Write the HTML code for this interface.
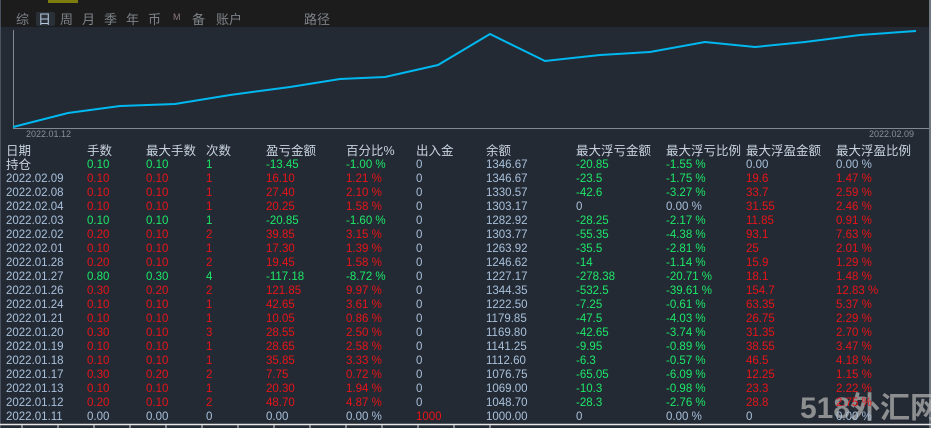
<!DOCTYPE html>
<html><head><meta charset="utf-8"><style>
body{margin:0;width:931px;height:428px;overflow:hidden;background:#232a33;font-family:"Liberation Sans","Noto Sans CJK SC",sans-serif;position:relative}
.top{position:absolute;left:0;top:0;width:931px;height:27px;background:#1c1c1c}
.tabs{position:absolute;top:9px;font-size:13px;color:#7d8288}
.t{position:absolute;top:0;white-space:nowrap}
.row{position:absolute;left:0;height:14px;font-size:11.5px;line-height:14px;white-space:nowrap}
.row span{position:absolute;top:0}
.w{color:#c8d3e0}.d{color:#a9c0dc}.r{color:#e8141a}.g{color:#1ee86a}
.h{font-size:12.5px;color:#c8d3e0}
</style></head><body>
<div class="top"></div>
<div style="position:absolute;left:48px;top:0;width:30px;height:3px;background:#dddd00;opacity:.5"></div>
<div style="position:absolute;left:36px;top:12px;width:19px;height:14px;background:#2a3038;border-radius:2px"></div>
<div class="tabs">
<span class="t" style="left:16px">综</span><span class="t" style="left:38px;color:#b7c9e0">日</span><span class="t" style="left:60px">周</span><span class="t" style="left:82px">月</span><span class="t" style="left:104px">季</span><span class="t" style="left:126px">年</span><span class="t" style="left:148px">币</span><span class="t" style="left:173px;font-size:9px;top:3px;color:#8a7a7a">M</span><span class="t" style="left:192px">备</span><span class="t" style="left:216px">账户</span><span class="t" style="left:304px">路径</span>
</div>
<div style="position:absolute;left:929px;top:0;width:2px;height:428px;background:#6e7680"></div>
<div style="position:absolute;left:0;top:0;width:1px;height:428px;background:#4a5260"></div>
<svg style="position:absolute;left:0;top:0" width="931" height="428">
<line x1="13.5" y1="30" x2="13.5" y2="128" stroke="#808890" stroke-width="1"/>
<line x1="13" y1="128.5" x2="929" y2="128.5" stroke="#808890" stroke-width="1"/>
<polyline fill="none" stroke="#00b8f0" stroke-width="2" points="13,127 68,113 120,106 175,104 230,95 290,87 340,79 385,77 438,65 490,34 545,61 600,55 650,52 705,42 755,47 805,42 860,35 916,31"/>
<text x="26" y="137" font-size="9" fill="#8a9099" font-family="Liberation Sans">2022.01.12</text>
<text x="869" y="137" font-size="9" fill="#8a9099" font-family="Liberation Sans">2022.02.09</text>
<line x1="0" y1="424.5" x2="931" y2="424.5" stroke="#e8e8e8" stroke-width="1.5"/>
<g stroke="#e8e8e8"><line x1="22" y1="424" x2="22" y2="428"/><line x1="58" y1="424" x2="58" y2="428"/><line x1="94" y1="424" x2="94" y2="428"/><line x1="130" y1="424" x2="130" y2="428"/><line x1="166" y1="424" x2="166" y2="428"/><line x1="202" y1="424" x2="202" y2="428"/><line x1="238" y1="424" x2="238" y2="428"/><line x1="274" y1="424" x2="274" y2="428"/><line x1="310" y1="424" x2="310" y2="428"/><line x1="346" y1="424" x2="346" y2="428"/><line x1="382" y1="424" x2="382" y2="428"/><line x1="418" y1="424" x2="418" y2="428"/><line x1="454" y1="424" x2="454" y2="428"/><line x1="490" y1="424" x2="490" y2="428"/></g>
<text x="800" y="418" font-size="30" font-weight="bold" fill="#b0b0b0" fill-opacity="0.75" font-family="Liberation Sans,Noto Sans CJK SC,sans-serif">518外汇网</text>
</svg>
<div id="tbl"></div>
<script>
var X=[6,87,146,206,266,346,416,486,576,666,746,836];
var H=["日期","手数","最大手数","次数","盈亏金额","百分比%","出入金","余额","最大浮亏金额","最大浮亏比例","最大浮盈金额","最大浮盈比例"];
var R=[
["持仓","0.10","0.10","1","-13.45","-1.00 %","0","1346.67","-20.85","-1.55 %","0.00","0.00 %"],
["2022.02.09","0.10","0.10","1","16.10","1.21 %","0","1346.67","-23.5","-1.75 %","19.6","1.47 %"],
["2022.02.08","0.10","0.10","1","27.40","2.10 %","0","1330.57","-42.6","-3.27 %","33.7","2.59 %"],
["2022.02.04","0.10","0.10","1","20.25","1.58 %","0","1303.17","0","0.00 %","31.55","2.46 %"],
["2022.02.03","0.10","0.10","1","-20.85","-1.60 %","0","1282.92","-28.25","-2.17 %","11.85","0.91 %"],
["2022.02.02","0.20","0.10","2","39.85","3.15 %","0","1303.77","-55.35","-4.38 %","93.1","7.63 %"],
["2022.02.01","0.10","0.10","1","17.30","1.39 %","0","1263.92","-35.5","-2.81 %","25","2.01 %"],
["2022.01.28","0.20","0.10","2","19.45","1.58 %","0","1246.62","-14","-1.14 %","15.9","1.29 %"],
["2022.01.27","0.80","0.30","4","-117.18","-8.72 %","0","1227.17","-278.38","-20.71 %","18.1","1.48 %"],
["2022.01.26","0.30","0.20","2","121.85","9.97 %","0","1344.35","-532.5","-39.61 %","154.7","12.83 %"],
["2022.01.24","0.10","0.10","1","42.65","3.61 %","0","1222.50","-7.25","-0.61 %","63.35","5.37 %"],
["2022.01.21","0.10","0.10","1","10.05","0.86 %","0","1179.85","-47.5","-4.03 %","26.75","2.29 %"],
["2022.01.20","0.30","0.10","3","28.55","2.50 %","0","1169.80","-42.65","-3.74 %","31.35","2.70 %"],
["2022.01.19","0.10","0.10","1","28.65","2.58 %","0","1141.25","-9.95","-0.89 %","38.55","3.47 %"],
["2022.01.18","0.10","0.10","1","35.85","3.33 %","0","1112.60","-6.3","-0.57 %","46.5","4.18 %"],
["2022.01.17","0.30","0.20","2","7.75","0.72 %","0","1076.75","-65.05","-6.09 %","12.25","1.15 %"],
["2022.01.13","0.10","0.10","1","20.30","1.94 %","0","1069.00","-10.3","-0.98 %","23.3","2.22 %"],
["2022.01.12","0.20","0.10","2","48.70","4.87 %","0","1048.70","-28.3","-2.76 %","28.8","2.75 %"],
["2022.01.11","0.00","0.00","0","0.00","0.00 %","1000","1000.00","0","0.00 %","0","0.00 %"]];
var s='<div class="row h" style="top:144px">';
H.forEach(function(h,i){s+='<span style="left:'+X[i]+'px">'+h+'</span>'});s+='</div>';
R.forEach(function(r,k){
 var top=158+k*14;s+='<div class="row" style="top:'+top+'px">';
 var neg=r[4].charAt(0)=='-',zero=r[4]=='0.00';
 r.forEach(function(v,i){var c;
  if(i==0)c=k==0?'w h':'d';
  else if(i<=5)c=zero?'d':(neg?'g':'r');
  else if(i==6)c=v=='1000'?'r':'d';
  else if(i==7)c='d';
  else if(i<=9)c=(v.charAt(0)=='-')?'g':'d';
  else c=(parseFloat(v)==0)?'d':'r';
  s+='<span class="'+c+'" style="left:'+X[i]+'px">'+v+'</span>';});
 s+='</div>';});
document.getElementById('tbl').innerHTML=s;
</script>
</body></html>
